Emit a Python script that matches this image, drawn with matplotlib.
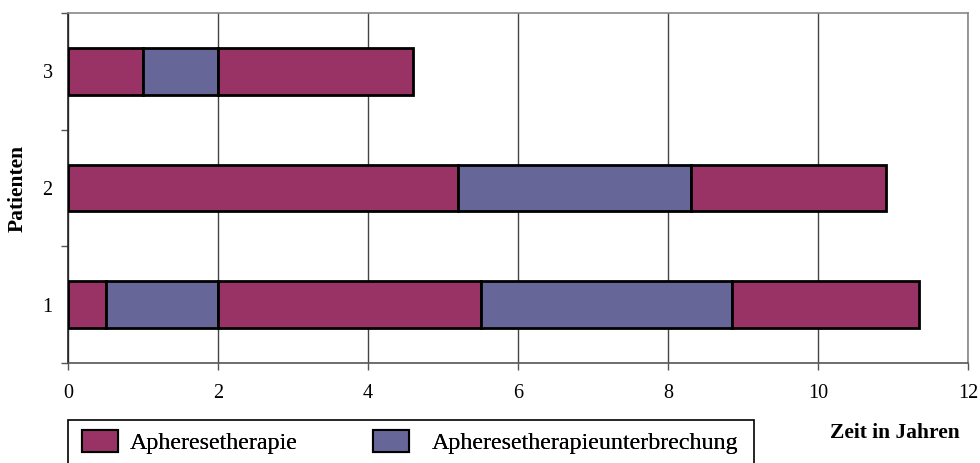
import matplotlib
matplotlib.use("Agg")
import matplotlib.pyplot as plt
from matplotlib.patches import Patch, Rectangle

plt.rcParams['font.family'] = ['Liberation Serif', 'DejaVu Serif']

patienten = [1, 2, 3]
# Dauer der einzelnen Abschnitte je Patient (Jahre), abwechselnd Therapie / Unterbrechung
abschnitte = {
    1: [0.5, 1.5, 3.5, 3.35, 2.5],
    2: [5.2, 3.1, 2.6],
    3: [1.0, 1.0, 2.6],
}
x_ticks = [0, 2, 4, 6, 8, 10, 12]
rot = "#993366"
blau = "#666699"

fig = plt.figure(figsize=(9.8, 4.63), dpi=100)
ax = fig.add_axes([68 / 980, 1 - 363 / 463, 900 / 980, 350 / 463])

for p in patienten:
    start = 0.0
    for i, dauer in enumerate(abschnitte[p]):
        farbe = rot if i % 2 == 0 else blau
        ax.barh(p, dauer, left=start, height=0.4, color=farbe,
                edgecolor="black", linewidth=2, zorder=3)
        start += dauer

ax.set_xlim(0, 12)
ax.set_ylim(0.5, 3.5)
ax.set_xticks(x_ticks)
ax.set_xticklabels([str(t) for t in x_ticks])
ax.tick_params(axis="x", length=5, width=1, pad=10, labelsize=14.5,
               color="#555555")

# Striche an den Kategoriegrenzen, Beschriftung in der Mitte
ax.set_yticks([0.5, 1.5, 2.5, 3.5])
ax.set_yticklabels([])
ax.set_yticks(patienten, minor=True)
ax.set_yticklabels([str(p) for p in patienten], minor=True)
ax.tick_params(axis="y", which="major", length=5, width=1, color="#555555")
ax.tick_params(axis="y", which="minor", length=0, pad=11, labelsize=14.5)

ax.grid(axis="x", color="#444444", linewidth=1, zorder=0)
ax.set_axisbelow(True)
ax.spines["left"].set_color("#222222")
ax.spines["bottom"].set_color("#555555")
ax.spines["top"].set_color("#888888")
ax.spines["right"].set_color("#888888")
for s in ax.spines.values():
    s.set_linewidth(1.2)

fig.text(18 / 980, 1 - 188 / 463, "Patienten", rotation=90, fontsize=15.5,
         fontweight="bold", ha="center", va="center")
fig.text(895 / 980, 1 - 433 / 463, "Zeit in Jahren", fontsize=15.5,
         fontweight="bold", ha="center", va="center")

# Legende mit eigenem Rahmen, zwei Einträge nebeneinander
fig.patches.append(Rectangle((68 / 980, -0.05), 686 / 980, 1 - 420 / 463 + 0.05,
                             transform=fig.transFigure, fill=False,
                             edgecolor="black", linewidth=1.2))
eintraege = [(rot, "Apheresetherapie", 82, 0.5),
             (blau, "Apheresetherapieunterbrechung", 373, 0.95)]
for farbe, text, x0, abstand in eintraege:
    leg = fig.legend([Patch(facecolor=farbe, edgecolor="black", linewidth=1.5)],
                     [text], loc="center left",
                     bbox_to_anchor=(x0 / 980, 1 - 442 / 463),
                     frameon=False, fontsize=17.3, borderpad=0,
                     borderaxespad=0, handlelength=1.5, handleheight=1.0,
                     handletextpad=abstand)
    fig.add_artist(leg)

fig.savefig("out.png", dpi=100)
